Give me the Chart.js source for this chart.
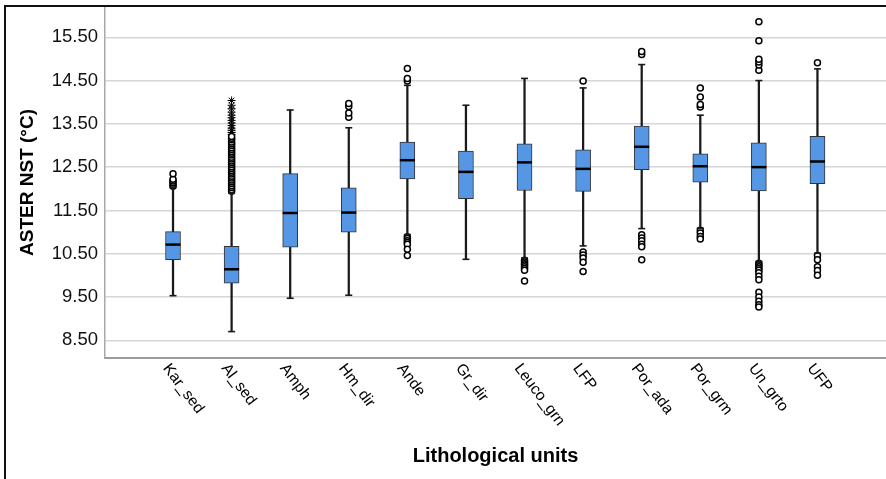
<!DOCTYPE html>
<html lang="en">
<head>
  <meta charset="UTF-8" />
  <title>ASTER NST by lithological unit</title>
  <script src="https://cdn.jsdelivr.net/npm/chart.js"></script>
  <style>
    body { margin: 0; background: #fff; }
    #wrap { position: relative; width: 886px; height: 479px; }
    #frame {
      position: absolute; left: 4px; top: 5px; right: 0; bottom: 0;
      border-left: 2px solid #111; border-top: 2px solid #111;
      pointer-events: none;
    }
  </style>
</head>
<body>
  <div id="wrap">
    <canvas id="boxChart"></canvas>
    <div id="frame"></div>
  </div>

  <script>
    // values
    const units = ['Kar_sed', 'Al_sed', 'Amph', 'Hm_dir', 'Ande', 'Gr_dir', 'Leuco_grn', 'LFP', 'Por_ada', 'Por_grm', 'Un_grto', 'UFP'];
    const whiskerLow  = [9.53, 8.70, 9.47, 9.54, 10.94, 10.37, 10.40, 10.68, 11.08, 11.09, 10.32, 10.51];
    const q1          = [10.36, 9.82, 10.65, 11.00, 12.23, 11.77, 11.96, 11.94, 12.44, 12.15, 11.95, 12.12];
    const median      = [10.71, 10.14, 11.44, 11.45, 12.66, 12.39, 12.61, 12.46, 12.97, 12.52, 12.50, 12.63];
    const q3          = [11.01, 10.67, 12.35, 12.02, 13.08, 12.87, 13.04, 12.90, 13.45, 12.81, 13.06, 13.21];
    const whiskerHigh = [12.03, 11.90, 13.82, 13.41, 14.39, 13.93, 14.55, 14.33, 14.87, 13.70, 14.50, 14.77];

    // outliers (circles) per unit
    const outliers = [
      [12.06, 12.10, 12.14, 12.18, 12.22, 12.35],
      [11.94, 11.98, 12.03, 12.07, 12.12, 12.16, 12.20, 12.25, 12.29, 12.34, 12.38, 12.42, 12.47, 12.51, 12.56,
       12.60, 12.64, 12.69, 12.73, 12.78, 12.82, 12.86, 12.91, 12.95, 13.00, 13.04, 13.08, 13.13, 13.17, 13.21],
      [],
      [13.65, 13.75, 13.90, 13.97],
      [14.49, 14.55, 14.78, 10.89, 10.85, 10.80, 10.76, 10.72, 10.60, 10.46],
      [],
      [10.35, 10.31, 10.27, 10.24, 10.20, 10.16, 10.12, 9.87],
      [14.49, 10.54, 10.47, 10.40, 10.30, 10.09],
      [15.10, 15.17, 10.94, 10.86, 10.80, 10.72, 10.66, 10.36],
      [13.89, 13.95, 14.12, 14.33, 11.04, 10.98, 10.90, 10.84],
      [14.74, 14.86, 14.93, 14.99, 15.42, 15.86, 10.28, 10.24, 10.20, 10.16, 10.12, 10.06, 9.98, 9.90, 9.61, 9.50, 9.40, 9.32, 9.27],
      [14.91, 10.46, 10.36, 10.20, 10.11, 10.00]
    ];
    // extreme values (stars), only Al_sed has them
    const extremes = [
      [], [13.25, 13.30, 13.35, 13.40, 13.46, 13.52, 13.58, 13.64, 13.70, 13.77, 13.85, 13.93, 14.04],
      [], [], [], [], [], [], [], [], [], []
    ];

    const yTicks = [8.5, 9.5, 10.5, 11.5, 12.5, 13.5, 14.5, 15.5];

    const idx = units.map((_, i) => i);
    const flat = arr => arr.flatMap((vals, i) => vals.map(v => ({ x: i, y: v })));

    // draws the slanted unit names under the x axis
    const slantLabels = {
      id: 'slantLabels',
      afterDraw(chart) {
        const { ctx, chartArea, scales: { x } } = chart;
        ctx.save();
        ctx.font = '15.5px "Liberation Sans", Arial, sans-serif';
        ctx.fillStyle = '#000';
        ctx.textAlign = 'left';
        ctx.textBaseline = 'top';
        units.forEach((u, i) => {
          ctx.save();
          ctx.translate(x.getPixelForValue(i) - 1, chartArea.bottom + 3);
          ctx.rotate(53 * Math.PI / 180);
          ctx.fillText(u, 0, 0);
          ctx.restore();
        });
        ctx.restore();
      }
    };

    new Chart(document.getElementById('boxChart'), {
      type: 'bar',
      data: {
        datasets: [
          {
            type: 'scatter', label: 'median', order: 0,
            data: idx.map(i => ({ x: i, y: median[i] })),
            pointStyle: 'line', radius: 7.5, borderWidth: 2.5, borderColor: '#000'
          },
          {
            label: 'box', order: 1, grouped: false,
            data: idx.map(i => ({ x: i, y: [q1[i], q3[i]] })),
            barThickness: 15, backgroundColor: '#5597e4', borderColor: '#333', borderWidth: 1, borderSkipped: false
          },
          {
            label: 'whisker', order: 2, grouped: false,
            data: idx.map(i => ({ x: i, y: [whiskerLow[i], whiskerHigh[i]] })),
            barThickness: 1.6, backgroundColor: '#1a1a1a', borderWidth: 0
          },
          {
            type: 'scatter', label: 'caps', order: 2,
            data: idx.flatMap(i => [{ x: i, y: whiskerLow[i] }, { x: i, y: whiskerHigh[i] }]),
            pointStyle: 'line', radius: 3.5, borderWidth: 1.6, borderColor: '#1a1a1a'
          },
          {
            type: 'scatter', label: 'outliers', order: 3,
            data: flat(outliers),
            pointStyle: 'circle', radius: 3, backgroundColor: '#fff', borderColor: '#000', borderWidth: 1.5
          },
          {
            type: 'scatter', label: 'extremes', order: 3,
            data: flat(extremes),
            pointStyle: 'star', radius: 4, borderColor: '#000', borderWidth: 1
          }
        ]
      },
      options: {
        responsive: true,
        maintainAspectRatio: false,
        animation: false,
        layout: { autoPadding: false, padding: { top: 7, left: 0, right: 0, bottom: 0 } },
        plugins: { legend: { display: false }, tooltip: { enabled: false } },
        scales: {
          x: {
            type: 'linear',
            offset: false,
            min: -1.161, max: 12.17,
            grid: { display: false },
            border: { display: true, color: '#9c9c9c', width: 2 },
            ticks: { display: false },
            title: {
              display: true, text: 'Lithological units', color: '#000',
              font: { family: '"Liberation Sans", Arial, sans-serif', size: 20, weight: 'bold' },
              padding: { top: 0, bottom: 11 }
            },
            afterFit(s) { s.height = 121; s.paddingLeft = 0; s.paddingRight = 0; }
          },
          y: {
            min: 8.09, max: 16.2,
            afterBuildTicks(s) { s.ticks = yTicks.map(v => ({ value: v })); },
            grid: { color: '#d6d6d6', lineWidth: 1.5, drawTicks: false },
            border: { display: true, color: '#a8a8a8', width: 1.5 },
            ticks: {
              padding: 7, color: '#111',
              font: { family: '"Liberation Sans", Arial, sans-serif', size: 18.5 },
              callback: v => Number(v).toFixed(2)
            },
            title: {
              display: true, text: 'ASTER NST (°C)', color: '#000',
              font: { family: '"Liberation Sans", Arial, sans-serif', size: 19, weight: 'bold' },
              padding: { top: 16.6, bottom: 0 }
            },
            afterFit(s) { s.width = 105; s.paddingTop = 0; s.paddingBottom = 0; }
          }
        }
      },
      plugins: [slantLabels]
    });
  </script>
</body>
</html>
